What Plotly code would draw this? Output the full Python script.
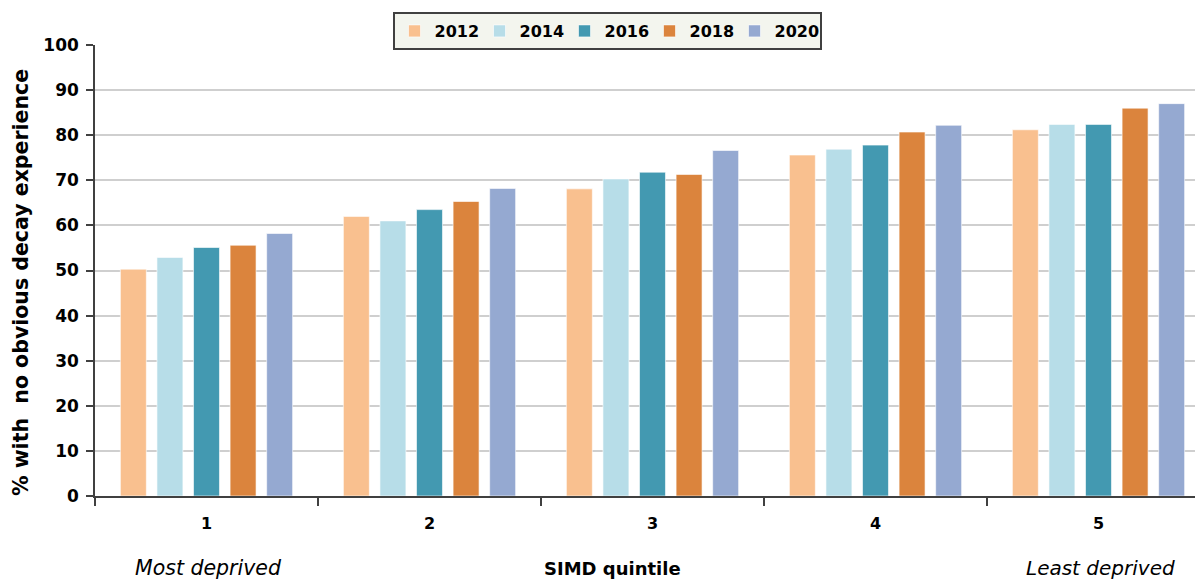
import plotly.graph_objects as go

quintiles = [1, 2, 3, 4, 5]
quintile_labels = ["1", "2", "3", "4", "5"]
years = ["2012", "2014", "2016", "2018", "2020"]
v2012 = [50.3, 62.0, 68.1, 75.6, 81.2]
v2014 = [52.9, 61.0, 70.3, 76.9, 82.4]
v2016 = [55.1, 63.5, 71.8, 77.8, 82.4]
v2018 = [55.6, 65.3, 71.3, 80.7, 86.0]
v2020 = [58.2, 68.2, 76.6, 82.2, 87.0]
series = [v2012, v2014, v2016, v2018, v2020]
colors = ["#F9C08F", "#B7DDE8", "#4399B1", "#DB843D", "#95A9D1"]
yticks = [0, 10, 20, 30, 40, 50, 60, 70, 80, 90, 100]

FONT = "'DejaVu Sans', sans-serif"

fig = go.Figure()
for yr, vals, col in zip(years, series, colors):
    fig.add_trace(go.Bar(
        x=quintiles, y=vals, name=yr,
        marker=dict(color=col, line=dict(color="rgba(255,255,255,0.6)", width=1)),
    ))

# page body has an 8px default margin; work in screen coords and shift
OFF = 8
W, H = 1203 - OFF, 581 - OFF
ml = 95 - OFF
mt = 45 - OFF
mb = H - (496 - OFF)
mr = 0
pw = W - ml - mr
ph = H - mt - mb


def px(xs):
    return (xs - 95) / pw


def py(ys):
    return (496 - ys) / ph


fig.update_layout(
    width=W, height=H,
    margin=dict(l=ml, r=mr, t=mt, b=mb, autoexpand=False),
    paper_bgcolor="white", plot_bgcolor="white",
    barmode="group", bargap=0.18, bargroupgap=0.29,
    font=dict(family=FONT, color="black"),
    showlegend=True,
    legend=dict(
        orientation="h", x=px(607), xanchor="center",
        y=py(31), yanchor="middle",
        bgcolor="#F3F5EE", bordercolor="#404040", borderwidth=2,
        font=dict(size=16, family=FONT, color="black", weight="bold"),
        itemwidth=30, entrywidth=40, entrywidthmode="pixels", traceorder="normal",
    ),
    xaxis=dict(
        range=[0.5, 0.5 + pw / 223.0],
        tickvals=quintiles, ticktext=quintile_labels,
        ticks="", showgrid=False, ticklabelstandoff=12,
        tickfont=dict(size=16, family=FONT, color="black", weight="bold"),
        showline=True, linecolor="#404040", linewidth=1.5,
        minor=dict(tickvals=[0.5, 1.5, 2.5, 3.5, 4.5, 5.5], ticks="outside", ticklen=8,
                   tickcolor="#404040", tickwidth=1.5, showgrid=False),
        zeroline=False,
    ),
    yaxis=dict(
        range=[0, 100], tickvals=yticks,
        ticks="outside", ticklen=7, tickcolor="#404040", tickwidth=1.5,
        ticklabelstandoff=4,
        tickfont=dict(size=17, family=FONT, color="black", weight="bold"),
        showgrid=True, gridcolor="#CFCFCF", gridwidth=2,
        showline=True, linecolor="#404040", linewidth=1.5,
        zeroline=False,
    ),
    annotations=[
        dict(text="% with  no obvious decay experience", xref="paper", yref="paper",
             x=px(21), y=py(283), xanchor="center", yanchor="middle", textangle=-90,
             showarrow=False, font=dict(size=20.5, family=FONT, color="black", weight="bold")),
        dict(text="Most deprived", xref="paper", yref="paper",
             x=px(208), y=py(568), xanchor="center", yanchor="middle",
             showarrow=False, font=dict(size=20.5, family=FONT, color="black", style="italic")),
        dict(text="SIMD quintile", xref="paper", yref="paper",
             x=px(612), y=py(568), xanchor="center", yanchor="middle",
             showarrow=False, font=dict(size=18, family=FONT, color="black", weight="bold")),
        dict(text="Least deprived", xref="paper", yref="paper",
             x=px(1100), y=py(568), xanchor="center", yanchor="middle",
             showarrow=False, font=dict(size=20, family=FONT, color="black", style="italic")),
    ],
)

fig.write_html("out.html")
